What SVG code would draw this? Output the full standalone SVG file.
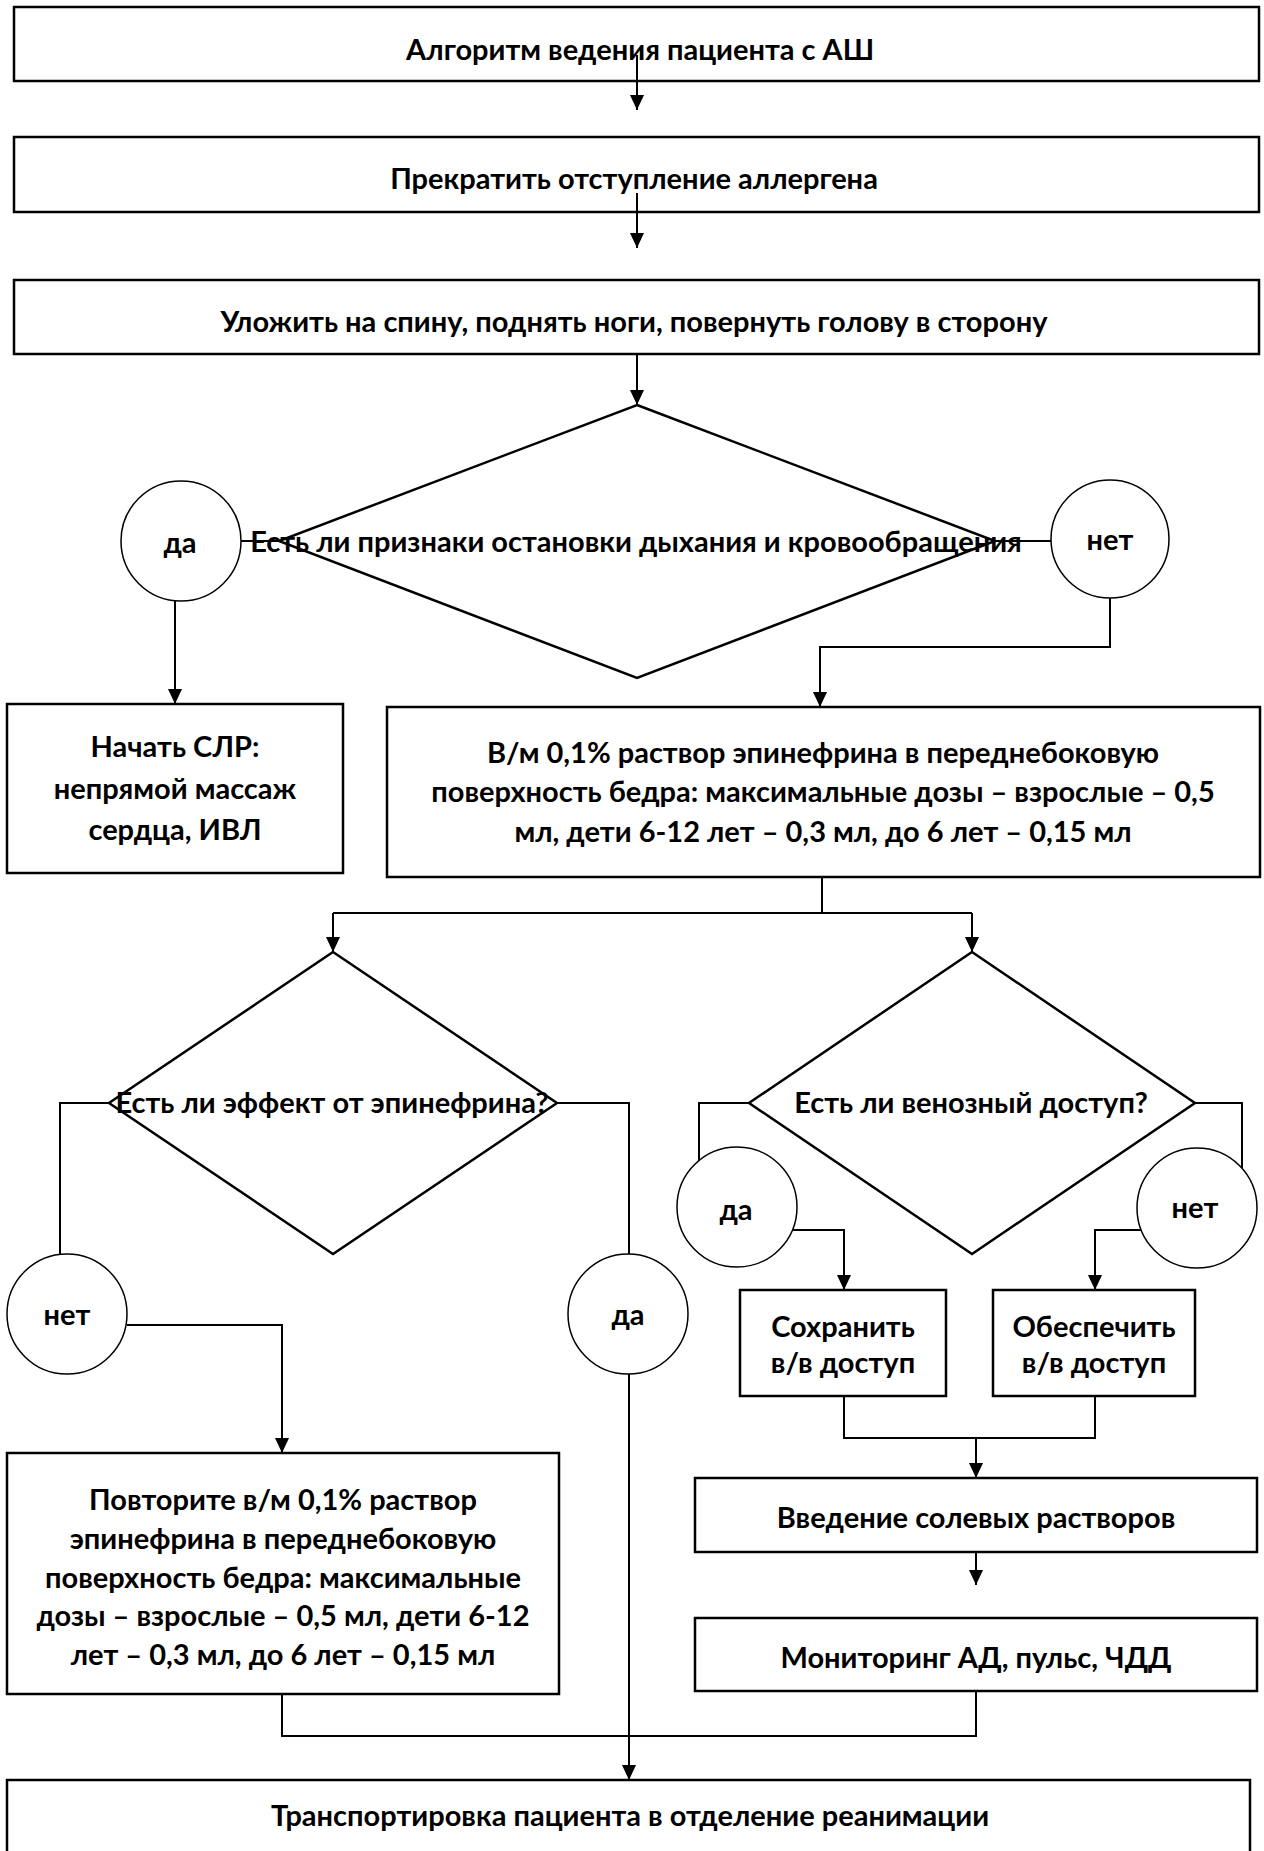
<svg xmlns="http://www.w3.org/2000/svg" width="1264" height="1851" viewBox="0 0 1264 1851">
<defs>
<marker id="ah" viewBox="0 0 15 14" refX="15" refY="7" markerWidth="15" markerHeight="14" markerUnits="userSpaceOnUse" orient="auto"><path d="M0,0 L15,7 L0,14 z" fill="#000"/></marker>
<style>
.box{fill:#fff;stroke:#000;stroke-width:2.5}
.dia{fill:#fff;stroke:#000;stroke-width:2.5}
.cir{fill:#fff;stroke:#000;stroke-width:1.5}
.ln{fill:none;stroke:#000;stroke-width:2}
.ar{fill:none;stroke:#000;stroke-width:2;marker-end:url(#ah)}
text{font-family:Lato,"Open Sans","Noto Sans",sans-serif;font-weight:700;font-size:29px;fill:#000;text-anchor:middle}
</style>
</defs>
<rect width="1264" height="1851" fill="#fff"/>

<g id="n1"><rect class="box" x="14" y="7" width="1245" height="74"/><text x="640" y="60">Алгоритм ведения пациента с АШ</text></g>
<g id="n2"><rect class="box" x="14" y="137" width="1245" height="75"/><text x="634" y="189">Прекратить отступление аллергена</text></g>
<g id="n3"><rect class="box" x="14" y="280" width="1245" height="74"/><text x="634" y="332">Уложить на спину, поднять ноги, повернуть голову в сторону</text></g>

<g id="connectors">
<line class="ar" x1="637" y1="55" x2="637" y2="110"/>
<line class="ar" x1="637" y1="193" x2="637" y2="248"/>
<line class="ar" x1="637" y1="354" x2="637" y2="405"/>
<line class="ln" x1="241" y1="541" x2="279" y2="541"/>
<line class="ln" x1="995" y1="541" x2="1051" y2="541"/>
<line class="ar" x1="175" y1="601" x2="175" y2="704"/>
<polyline class="ar" points="1110,598 1110,647 820,647 820,707"/>
<polyline class="ln" points="822,877 822,913"/>
<polyline class="ar" points="333,913 333,952"/>
<polyline class="ar" points="972,913 972,952"/>
<line class="ln" x1="333" y1="913" x2="972" y2="913"/>
<polyline class="ln" points="109,1103 60,1103 60,1254"/>
<polyline class="ar" points="127,1325 282,1325 282,1453"/>
<polyline class="ln" points="557,1103 629,1103 629,1254"/>
<line class="ar" x1="629" y1="1374" x2="629" y2="1780"/>
<polyline class="ln" points="282,1694 282,1736 629,1736"/>
<polyline class="ln" points="749,1103 699,1103 699,1161"/>
<polyline class="ar" points="792,1230 844,1230 844,1290"/>
<polyline class="ln" points="1195,1103 1242,1103 1242,1168"/>
<polyline class="ar" points="1141,1230 1095,1230 1095,1290"/>
<polyline class="ln" points="844,1396 844,1438 1095,1438 1095,1396"/>
<line class="ar" x1="976" y1="1438" x2="976" y2="1478"/>
<line class="ar" x1="976" y1="1537" x2="976" y2="1585"/>
<polyline class="ln" points="976,1691 976,1736 629,1736"/>
</g>

<g id="d1"><polygon class="dia" points="637,405 995,541 637,678 279,541"/><text x="636" y="552">Есть ли признаки остановки дыхания и кровообращения</text></g>
<g id="c1"><circle class="cir" cx="181" cy="541" r="60"/><text x="180" y="553">да</text></g>
<g id="c2"><circle class="cir" cx="1110" cy="539" r="59"/><text x="1110" y="550">нет</text></g>

<g id="n4"><rect class="box" x="7" y="704" width="336" height="169"/>
<text x="175" y="757">Начать СЛР:</text><text x="175" y="799">непрямой массаж</text><text x="175" y="840">сердца, ИВЛ</text></g>
<g id="n5"><rect class="box" x="387" y="707" width="873" height="170"/>
<text x="823" y="763">В/м 0,1% раствор эпинефрина в переднебоковую</text>
<text x="823" y="802">поверхность бедра: максимальные дозы – взрослые – 0,5</text>
<text x="823" y="842">мл, дети 6-12 лет – 0,3 мл, до 6 лет – 0,15 мл</text></g>

<g id="d2"><polygon class="dia" points="333,952 557,1103 333,1254 109,1103"/><text x="332" y="1113">Есть ли эффект от эпинефрина?</text></g>
<g id="c3"><circle class="cir" cx="67" cy="1314" r="60"/><text x="67" y="1325">нет</text></g>
<g id="c4"><circle class="cir" cx="628" cy="1314" r="60"/><text x="628" y="1325">да</text></g>

<g id="d3"><polygon class="dia" points="972,952 1195,1103 972,1254 749,1103"/><text x="971" y="1113">Есть ли венозный доступ?</text></g>
<g id="c5"><circle class="cir" cx="737" cy="1207" r="60"/><text x="736" y="1220">да</text></g>
<g id="c6"><circle class="cir" cx="1197" cy="1208" r="60"/><text x="1195" y="1218">нет</text></g>

<g id="n6"><rect class="box" x="7" y="1453" width="552" height="241"/>
<text x="283" y="1510">Повторите в/м 0,1% раствор</text>
<text x="283" y="1549">эпинефрина в переднебоковую</text>
<text x="283" y="1588">поверхность бедра: максимальные</text>
<text x="283" y="1626">дозы – взрослые – 0,5 мл, дети 6-12</text>
<text x="283" y="1665">лет – 0,3 мл, до 6 лет – 0,15 мл</text></g>

<g id="n7"><rect class="box" x="740" y="1290" width="206" height="106"/><text x="843" y="1337">Сохранить</text><text x="843" y="1373">в/в доступ</text></g>
<g id="n8"><rect class="box" x="993" y="1290" width="202" height="106"/><text x="1094" y="1337">Обеспечить</text><text x="1094" y="1373">в/в доступ</text></g>
<g id="n9"><rect class="box" x="695" y="1478" width="562" height="74"/><text x="976" y="1528">Введение солевых растворов</text></g>
<g id="n10"><rect class="box" x="695" y="1618" width="562" height="73"/><text x="976" y="1668">Мониторинг АД, пульс, ЧДД</text></g>
<g id="n11"><rect class="box" x="7" y="1780" width="1243" height="90"/><text x="630" y="1826">Транспортировка пациента в отделение реанимации</text></g>
</svg>
